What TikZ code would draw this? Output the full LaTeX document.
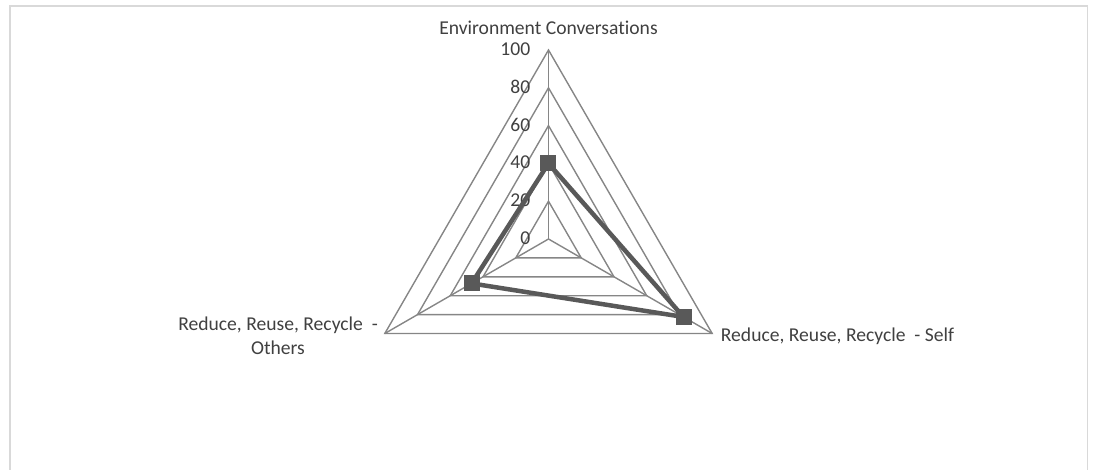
\documentclass[tikz,border=0pt]{standalone}
\usepackage{fontspec}
\setmainfont[Ligatures=NoCommon]{Carlito}
\definecolor{frameC}{HTML}{D9D9D9}
\definecolor{gridC}{HTML}{868686}
\definecolor{dataC}{HTML}{595959}
\definecolor{textC}{HTML}{404040}
\begin{document}
\begin{tikzpicture}[x=1pt,y=1pt,
  gridline/.style={draw=gridC,line width=1.4pt},
  dataline/.style={draw=dataC,line width=4.5pt,line join=round},
  marker/.style={rectangle,fill=dataC,inner sep=0pt,minimum size=16pt},
  lbl/.style={text=textC,font=\fontsize{19.6}{23.3}\selectfont,inner sep=0pt},
  tick/.style={lbl,anchor=base east}]
\useasboundingbox (-548.5,-230) rectangle (544.5,239);
% chart frame
\draw[frameC,line width=1.5pt] (-538.5,-236) -- (-538.5,233) -- (539.2,233) -- (539.2,-236);
% axis ends
\def\R{189}
\coordinate (O) at (0,0);
\coordinate (A) at (90:\R);
\coordinate (B) at (-30:\R);
\coordinate (C) at (210:\R);
% rings
\foreach \v in {20,40,60,80,100}{
  \draw[gridline] (90:\v*1.89) -- (-30:\v*1.89) -- (210:\v*1.89) -- cycle;
}
% spokes
\draw[gridline] (O) -- (A);
\draw[gridline] (O) -- (B);
\draw[gridline] (O) -- (C);
% tick labels
\foreach \v in {0,20,40,60,80,100}{
  \node[tick] at (-18,\v*1.89-5.5) {\v};
}
% data
\coordinate (dA) at (90:40*1.89);
\coordinate (dB) at (-30:82.5*1.89);
\coordinate (dC) at (210:47*1.89);
\draw[dataline] (dA) -- (dB) -- (dC) -- cycle;
\node[marker] (mA) at (dA) {};
\node[marker] (mB) at (dB) {};
\node[marker] (mC) at (dC) {};
% category labels
\node[lbl,anchor=base] (tA) at (0,204.7) {Environment Conversations};
\node[lbl,anchor=base west] (tB) at (172.2,-102.7) {Reduce, Reuse, Recycle \ - Self};
\node[lbl,anchor=base,align=center] (tC) at (-270.5,-115) {Reduce, Reuse, Recycle \ -\\Others};
\end{tikzpicture}
\end{document}
